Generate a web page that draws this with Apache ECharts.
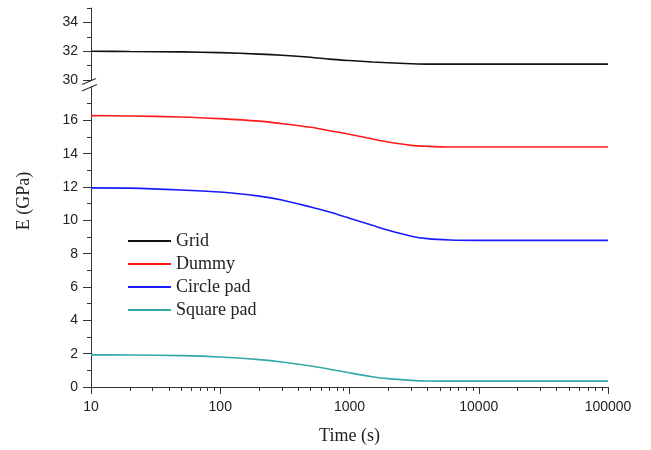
<!DOCTYPE html>
<html>
<head>
<meta charset="utf-8">
<script src="https://cdn.jsdelivr.net/npm/echarts@6/dist/echarts.min.js"></script>
<style>html,body{margin:0;padding:0;background:#fff}#c{width:651px;height:450px}</style>
</head>
<body>
<div id="c"></div>
<script>
// ---- data ----
const times = [10, 20, 50, 100, 200, 300, 500, 700, 1000, 1500, 2000, 3000, 4000, 6000, 10000, 30000, 100000];
const gridE   = [32.0, 31.98, 31.95, 31.9, 31.8, 31.72, 31.58, 31.45, 31.35, 31.25, 31.2, 31.13, 31.1, 31.1, 31.1, 31.1, 31.1];
const dummyE  = [16.28, 16.26, 16.2, 16.1, 15.95, 15.8, 15.58, 15.38, 15.17, 14.88, 14.7, 14.5, 14.44, 14.4, 14.4, 14.4, 14.4];
const circleE = [11.95, 11.93, 11.82, 11.7, 11.45, 11.22, 10.8, 10.5, 10.13, 9.7, 9.4, 9.05, 8.9, 8.82, 8.8, 8.8, 8.8];
const squareE = [1.93, 1.92, 1.88, 1.8, 1.64, 1.5, 1.26, 1.07, 0.85, 0.62, 0.5, 0.4, 0.36, 0.35, 0.35, 0.35, 0.35];
const seriesNames = ['Grid', 'Dummy', 'Circle pad', 'Square pad'];
const upperMajorTicks = [30, 32, 34];
const upperMinorTicks = [31, 33, 35];
const lowerMajorTicks = [0, 2, 4, 6, 8, 10, 12, 14, 16];
const xMinorTicks = [20,30,40,50,60,70,80,90,200,300,400,500,600,700,800,900,2000,3000,4000,5000,6000,7000,8000,9000,20000,30000,40000,50000,60000,70000,80000,90000];

// ---- layout / style ----
const gLeft = 91, gRight = 43;
const upTop = 8, upH = 72;
const lowTop = 87, lowBottom = 63;
const axisColor = '#333';
const sans = '"Liberation Sans", Arial, sans-serif';
const serif = '"Liberation Serif", "Times New Roman", serif';
const colors = ['#111111', '#ff1a1a', '#1a1aff', '#35a8a8'];

const chart = echarts.init(document.getElementById('c'), null, {renderer: 'canvas'});
const pair = arr => times.map((t, i) => [t, arr[i]]);

const xBase = {
  type: 'log', logBase: 10, min: 10, max: 100000,
  splitLine: {show: false}
};

const option = {
  animation: false,
  backgroundColor: '#fff',
  grid: [
    {left: gLeft, right: gRight, top: upTop, height: upH},
    {left: gLeft, right: gRight, top: lowTop, bottom: lowBottom}
  ],
  xAxis: [
    Object.assign({}, xBase, {gridIndex: 0, show: false}),
    Object.assign({}, xBase, {
      gridIndex: 1, position: 'bottom',
      axisLine: {show: true, lineStyle: {color: axisColor, width: 1}},
      axisTick: {show: true, length: 7, lineStyle: {color: axisColor}},
      axisLabel: {
        color: '#222', fontFamily: sans, fontSize: 14, margin: 13,
        formatter: v => String(Math.round(v))
      },
      name: 'Time (s)', nameLocation: 'middle', nameGap: 40,
      nameTextStyle: {fontFamily: serif, fontSize: 18, color: '#222'}
    }),
    Object.assign({}, xBase, {
      gridIndex: 1, position: 'bottom',
      axisLine: {show: false},
      axisTick: {show: true, length: 4, customValues: xMinorTicks, lineStyle: {color: axisColor}},
      axisLabel: {show: false}
    })
  ],
  yAxis: [
    {
      gridIndex: 0, type: 'value', min: 30, max: 35, interval: 1, position: 'left',
      splitLine: {show: false},
      axisLine: {show: true, lineStyle: {color: axisColor}},
      axisTick: {show: true, length: 8, customValues: upperMajorTicks, lineStyle: {color: axisColor}},
      axisLabel: {customValues: upperMajorTicks, color: '#222', fontFamily: sans, fontSize: 14, margin: 13}
    },
    {
      gridIndex: 0, type: 'value', min: 30, max: 35, interval: 1, position: 'left',
      splitLine: {show: false},
      axisLine: {show: false},
      axisTick: {show: true, length: 4, customValues: upperMinorTicks, lineStyle: {color: axisColor}},
      axisLabel: {show: false}
    },
    {
      gridIndex: 1, type: 'value', min: 0, max: 18, interval: 2, position: 'left',
      splitLine: {show: false},
      axisLine: {show: true, lineStyle: {color: axisColor}},
      axisTick: {show: true, length: 8, customValues: lowerMajorTicks, lineStyle: {color: axisColor}},
      minorTick: {show: true, splitNumber: 2, length: 4, lineStyle: {color: axisColor}},
      axisLabel: {customValues: lowerMajorTicks, color: '#222', fontFamily: sans, fontSize: 14, margin: 13}
    }
  ],
  legend: {
    orient: 'vertical', left: 128, top: 232, padding: 0,
    data: seriesNames,
    icon: 'rect',
    itemWidth: 43, itemHeight: 2, itemGap: 5,
    textStyle: {fontFamily: serif, fontSize: 18, color: '#222', lineHeight: 18}
  },
  series: [
    {name: seriesNames[0], type: 'line', xAxisIndex: 0, yAxisIndex: 0, data: pair(gridE)},
    {name: seriesNames[1], type: 'line', xAxisIndex: 1, yAxisIndex: 2, data: pair(dummyE)},
    {name: seriesNames[2], type: 'line', xAxisIndex: 1, yAxisIndex: 2, data: pair(circleE)},
    {name: seriesNames[3], type: 'line', xAxisIndex: 1, yAxisIndex: 2, data: pair(squareE)}
  ].map((s, i) => Object.assign(s, {
    symbol: 'none', smooth: 0.3, color: colors[i],
    lineStyle: {width: 1.6, color: colors[i]}
  })),
  graphic: [
    {type: 'line', shape: {x1: 82, y1: 84.5, x2: 96, y2: 78.5}, style: {stroke: axisColor, lineWidth: 1.2}},
    {type: 'line', shape: {x1: 82, y1: 91, x2: 97, y2: 84.5}, style: {stroke: axisColor, lineWidth: 1.2}},
    {type: 'text', x: 24, y: 201, rotation: Math.PI / 2,
     style: {text: 'E (GPa)', fontFamily: serif, fontSize: 18, fill: '#222', align: 'center', verticalAlign: 'middle'}}
  ]
};
chart.setOption(option);
</script>
</body>
</html>
